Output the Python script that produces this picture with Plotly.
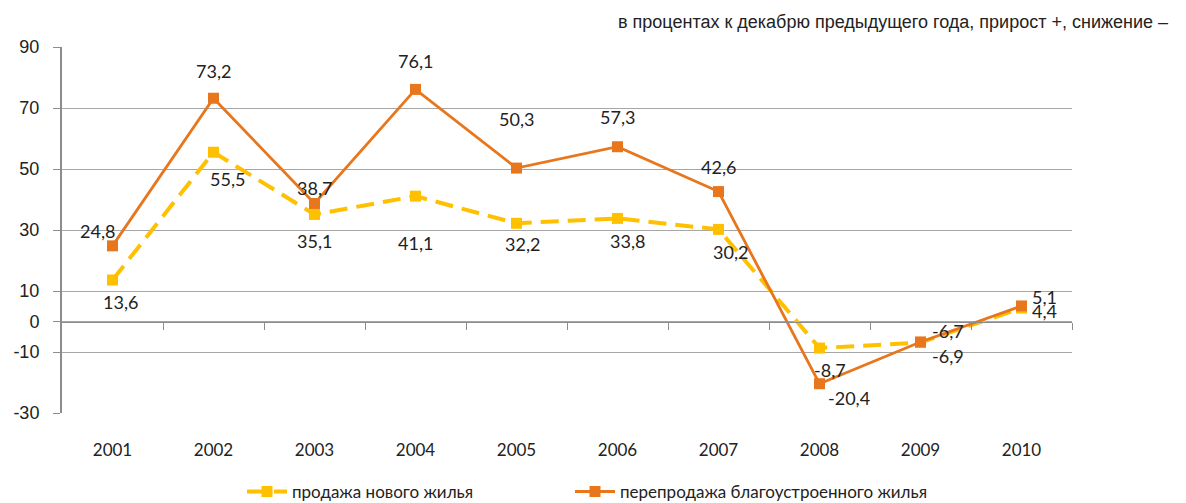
import plotly.graph_objects as go

years = ["2001", "2002", "2003", "2004", "2005", "2006", "2007", "2008", "2009", "2010"]
new_housing = [13.6, 55.5, 35.1, 41.1, 32.2, 33.8, 30.2, -8.7, -6.9, 4.4]
resale = [24.8, 73.2, 38.7, 76.1, 50.3, 57.3, 42.6, -20.4, -6.7, 5.1]
y_ticks = [90, 70, 50, 30, 10, 0, -10, -30]
y_tick_text = ["90", "70", "50", "30", "10", "0", "-10", "-30"]
name_new = "продажа нового жилья"
name_resale = "перепродажа благоустроенного жилья"
subtitle = "в процентах к декабрю предыдущего года, прирост +, снижение –"

# label pixel offsets (style only)
new_dx = [8, 14, 0, 0, 6, 10, 12, 10, 27, 23]
new_dy = [-22, -27, -27, -47, -21, -23, -23, -22, -13, -3]
res_dx = [-15, 0, 0, 0, 0, 0, 0, 29, 27, 23]
res_dy = [15, 27, 15, 28, 49, 30, 25, -14, 11, 9]

YELLOW = "#FFC000"
ORANGE = "#E8761C"
GRID = "#A6A6A6"
TXT = "#222222"
FONT = "Liberation Sans"
LFONT = "Lato"

xs = list(range(1, len(years) + 1))

fig = go.Figure()
fig.add_trace(go.Scatter(
    x=xs, y=new_housing, name=name_new, mode="lines+markers", legend="legend",
    line=dict(color=YELLOW, width=4, dash="18px,9px"),
    marker=dict(symbol="square", size=11, color=YELLOW),
))
fig.add_trace(go.Scatter(
    x=xs, y=resale, name=name_resale, mode="lines+markers", legend="legend2",
    line=dict(color=ORANGE, width=2.8),
    marker=dict(symbol="square", size=11, color=ORANGE),
))

def fmt(v):
    return ("%.1f" % v).replace(".", ",")

annotations = []
for i, x in enumerate(xs):
    annotations.append(dict(x=x, y=new_housing[i], text=fmt(new_housing[i]), showarrow=False,
                            xshift=new_dx[i], yshift=new_dy[i],
                            font=dict(family=LFONT, size=18, color=TXT)))
    annotations.append(dict(x=x, y=resale[i], text=fmt(resale[i]), showarrow=False,
                            xshift=res_dx[i], yshift=res_dy[i],
                            font=dict(family=LFONT, size=18, color=TXT)))
annotations.append(dict(xref="paper", yref="paper", x=1.097, y=1.068, xanchor="right", yanchor="middle",
                        text=subtitle, showarrow=False,
                        font=dict(family=FONT, size=18, color=TXT)))

# zero-line category axis tick marks between categories
boundaries = [k + 0.5 for k in xs]

legend_common = dict(orientation="h", xref="container", yref="container", y=0.022,
                     xanchor="left", yanchor="middle",
                     font=dict(family=LFONT, size=17, color=TXT), itemwidth=40)

fig.update_layout(
    width=1186, height=503,
    margin=dict(l=62, r=114, t=47, b=90, autoexpand=False),
    plot_bgcolor="white", paper_bgcolor="white",
    showlegend=True,
    legend=dict(x=242 / 1186, **legend_common),
    legend2=dict(x=570 / 1186, **legend_common),
    annotations=annotations,
    xaxis=dict(range=[0.5, 10.5], tickvals=xs, ticktext=years, showgrid=False, zeroline=False,
               showline=False, ticks="", ticklabelstandoff=25,
               tickfont=dict(family=LFONT, size=17, color=TXT)),
    xaxis2=dict(range=[0.5, 10.5], overlaying="x", anchor="free", position=0.25, side="bottom",
                tickvals=boundaries, showticklabels=False, ticks="outside", ticklen=7,
                tickcolor="#8C8C8C", showline=True, linecolor="#8C8C8C", linewidth=1,
                showgrid=False, zeroline=False),
    yaxis=dict(range=[-30, 90], tickvals=y_ticks, ticktext=y_tick_text, showgrid=True,
               gridcolor=GRID, gridwidth=1,
               zeroline=False, showline=True, linecolor="#8C8C8C", linewidth=2,
               ticks="outside", ticklen=7, tickcolor="#8C8C8C", ticklabelstandoff=10,
               tickfont=dict(family=FONT, size=18, color=TXT)),
)
fig.add_trace(go.Scatter(x=[xs[0]], y=[0], xaxis="x2", mode="markers",
                         marker=dict(opacity=0), showlegend=False, hoverinfo="skip"))
fig.write_html("out.html", config={"displayModeBar": False},
               post_script="document.body.style.margin='0';document.body.style.overflow='hidden';")
